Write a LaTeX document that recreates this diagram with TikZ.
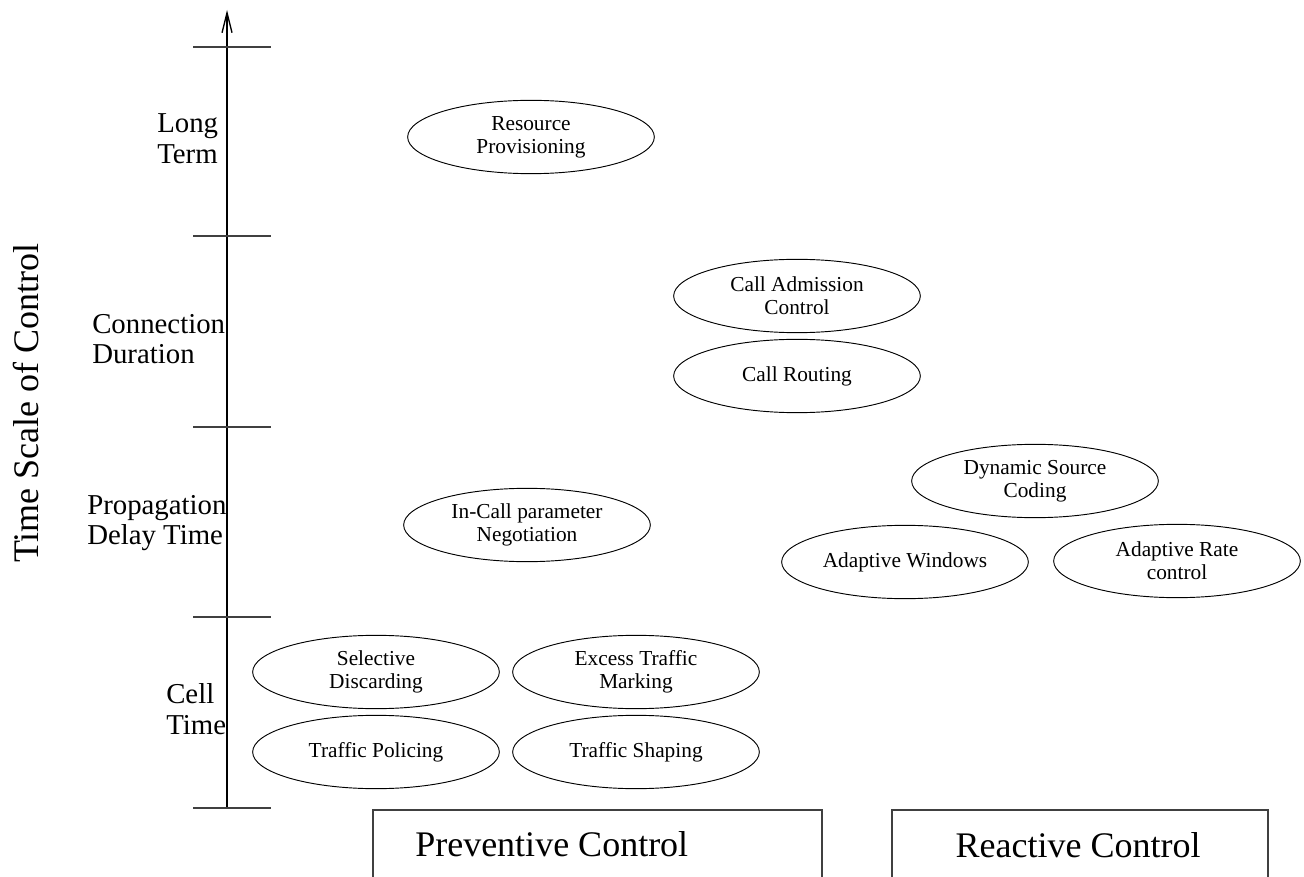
\documentclass[tikz,border=0pt]{standalone}
\usepackage{fontspec}
\setmainfont{Liberation Serif}
\usetikzlibrary{arrows.meta, shapes.geometric, positioning}
\tikzset{
    metodo/.style={draw, ellipse, line width=0.7pt, minimum width=185pt, minimum height=55pt, inner sep=0pt, align=center, font=\fontsize{16}{17.5}\selectfont},
    escala/.style={align=left, inner sep=0pt, font=\fontsize{21.6}{23}\selectfont},
    grande/.style={inner sep=0pt, font=\fontsize{27}{30}\selectfont},
    marco/.style={line width=1pt, black!75},
}

\begin{document}
\begin{tikzpicture}[x=0.75pt, y=-0.75pt]
\clip (0,0) rectangle (1304,877);
% eje
\coordinate (base) at (227,808);
\coordinate (tope) at (227,10);
\draw[line width=1pt, -{Straight Barb[length=15pt,width=7.5pt]}] (base) -- (tope);
\foreach \y in {47,236,427,617,808} {
    \draw[marco] (193,\y) -- (271,\y);
}
\node[grande, rotate=90, anchor=base] (titulo) at (38,403) {Time Scale of Control};
% escalas
\node[escala, anchor=west] (largo) at (157,139) {Long\\Term};
\node[escala, anchor=west] (conexion) at (92,339) {Connection\\Duration};
\node[escala, anchor=west] (propagacion) at (87,523) {Propagation\\Delay Time};
\node[escala, anchor=west] (celda) at (166,709) {Cell\\Time};
% preventivo
\node[metodo] (recursos) at (531,137) {Resource\\Provisioning};
\node[metodo] (admision) at (797,296) {Call Admission\\Control};
\node[metodo] (ruteo) at (797,376) {Call Routing};
\node[metodo] (negociacion) at (527,525) {In-Call parameter\\Negotiation};
\node[metodo] (descarte) at (376,672) {Selective\\Discarding};
\node[metodo] (marcado) at (636,672) {Excess Traffic\\Marking};
\node[metodo] (vigilancia) at (376,752) {Traffic Policing};
\node[metodo] (conformado) at (636,752) {Traffic Shaping};
% reactivo
\node[metodo] (codificacion) at (1035,481) {Dynamic Source\\Coding};
\node[metodo] (ventanas) at (905,562) {Adaptive Windows};
\node[metodo] (tasa) at (1177,561) {Adaptive Rate\\control};
% cajas
\draw[marco] (373,810) rectangle (822,900);
\node[grande, anchor=base west] (preventivo) at (415,856) {Preventive Control};
\draw[marco] (892,810) rectangle (1268,900);
\node[grande, anchor=base] (reactivo) at (1078,857) {Reactive Control};
\end{tikzpicture}
\end{document}
